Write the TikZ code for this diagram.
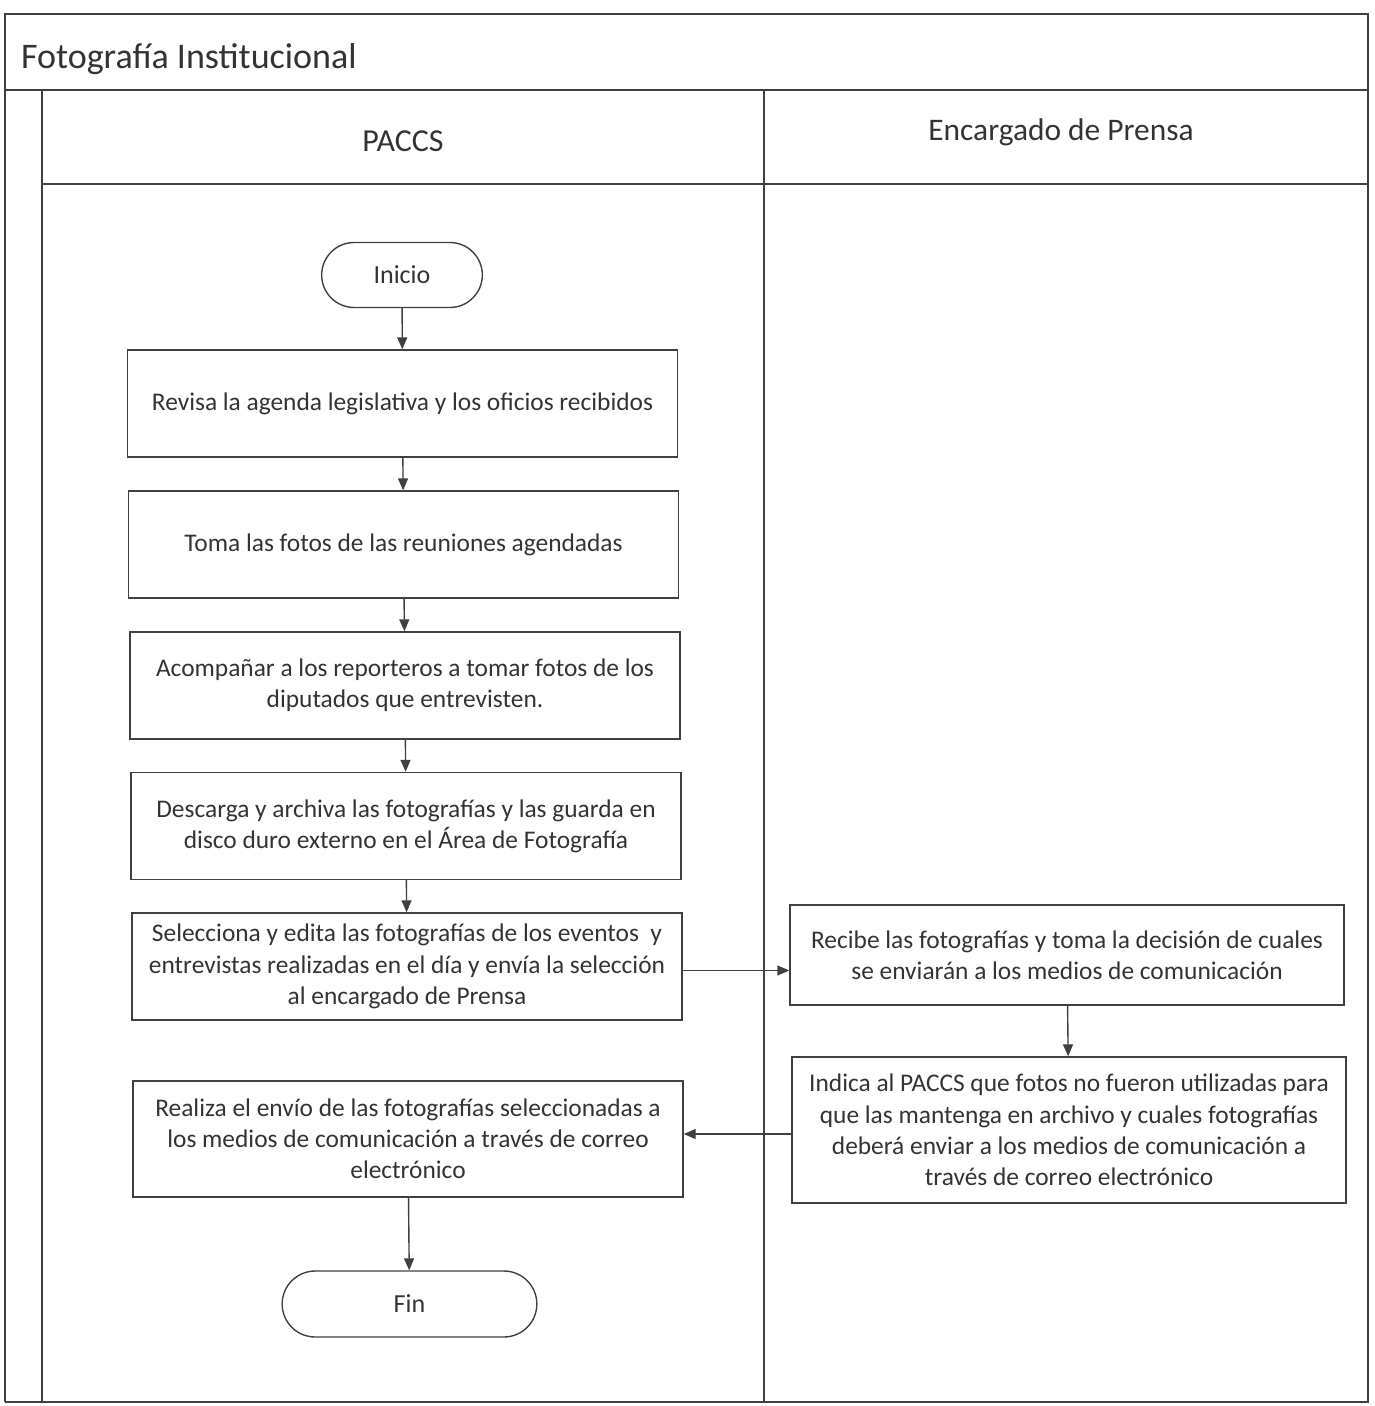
\documentclass[tikz,border=0pt]{standalone}
\usepackage{fontspec}
\setmainfont{Carlito}
\usepackage{tikz}
\usetikzlibrary{arrows.meta,shapes.misc}

\begin{document}
\begin{tikzpicture}[x=0.5pt,y=-0.5pt,
  line/.style={draw=black!75,line width=0.7pt},
  flow/.style={line,-{Triangle[length=6pt,width=5pt]}},
  procbox/.style={line,rectangle,minimum width=275pt,minimum height=53.5pt,
    inner sep=2pt,align=center,text=black!80,font=\fontsize{12.7}{15.6}\selectfont},
  endpoint/.style={line,rounded rectangle,minimum height=32.5pt,
    text=black!80,font=\fontsize{13}{15}\selectfont}]
\useasboundingbox (0,0) rectangle (1374,1406);

% marco y carriles
\coordinate (tl) at (5,14);
\coordinate (tr) at (1368,14);
\coordinate (bl) at (5,1402);
\coordinate (br) at (1368,1402);
\draw[line] (bl)--(tl)--(tr)--(br)--(bl);
\draw[line] (5,90)--(1368,90);
\draw[line] (42,90)--(42,1402);
\draw[line] (764,90)--(764,1402);
\draw[line] (42,184)--(1368,184);

\node[anchor=west,text=black!80,font=\fontsize{18}{21}\selectfont] (titulo) at (14,59) {Fotografía Institucional};
\node[text=black!80,font=\fontsize{16}{19}\selectfont] (paccs) at (403,141) {PACCS};
\node[text=black!80,font=\fontsize{15.7}{19}\selectfont] (prensa) at (1061,132) {Encargado de Prensa};

% nodos
\node[endpoint,minimum width=87pt] (inicio) at (402,275) {Inicio};
\node[procbox] (b1) at (402.5,403.5) {Revisa la agenda legislativa y los oficios recibidos};
\node[procbox] (b2) at (403.5,544.5) {Toma las fotos de las reuniones agendadas};
\node[procbox] (b3) at (405,685.5) {Acompañar a los reporteros a tomar fotos de los\\diputados que entrevisten.};
\node[procbox] (b4) at (406,826) {Descarga y archiva las fotografías y las guarda en\\disco duro externo en el Área de Fotografía};
\node[procbox] (b5) at (407,966.5) {Selecciona y edita las fotografías de los eventos \ y\\entrevistas realizadas en el día y envía la selección\\al encargado de Prensa};
\node[procbox,minimum height=58pt] (b6) at (408,1139) {Realiza el envío de las fotografías seleccionadas a\\los medios de comunicación a través de correo\\electrónico};
\node[endpoint,minimum width=134pt,minimum height=33pt] (fin) at (409.5,1304) {Fin};
\node[procbox,minimum width=277pt,minimum height=50pt] (r1) at (1067,955) {Recibe las fotografías y toma la decisión de cuales\\se enviarán a los medios de comunicación};
\node[procbox,minimum width=277pt,minimum height=73pt] (r2) at (1069,1130) {Indica al PACCS que fotos no fueron utilizadas para\\que las mantenga en archivo y cuales fotografías\\deberá enviar a los medios de comunicación a\\través de correo electrónico};

% conectores
\draw[flow] (inicio)--(b1);
\draw[flow] (b1)--(b2);
\draw[flow] (b2)--(b3);
\draw[flow] (b3)--(b4);
\draw[flow] (b4)--(b5);
\draw[flow] ([yshift=-2pt]b5.east)--([yshift=-2pt]b5.east -| r1.west);
\draw[flow] (r1)--(r2);
\draw[flow] ([yshift=-2pt]r2.west)--([yshift=-2pt]r2.west -| b6.east);
\draw[flow] (b6)--(fin);
\end{tikzpicture}
\end{document}
